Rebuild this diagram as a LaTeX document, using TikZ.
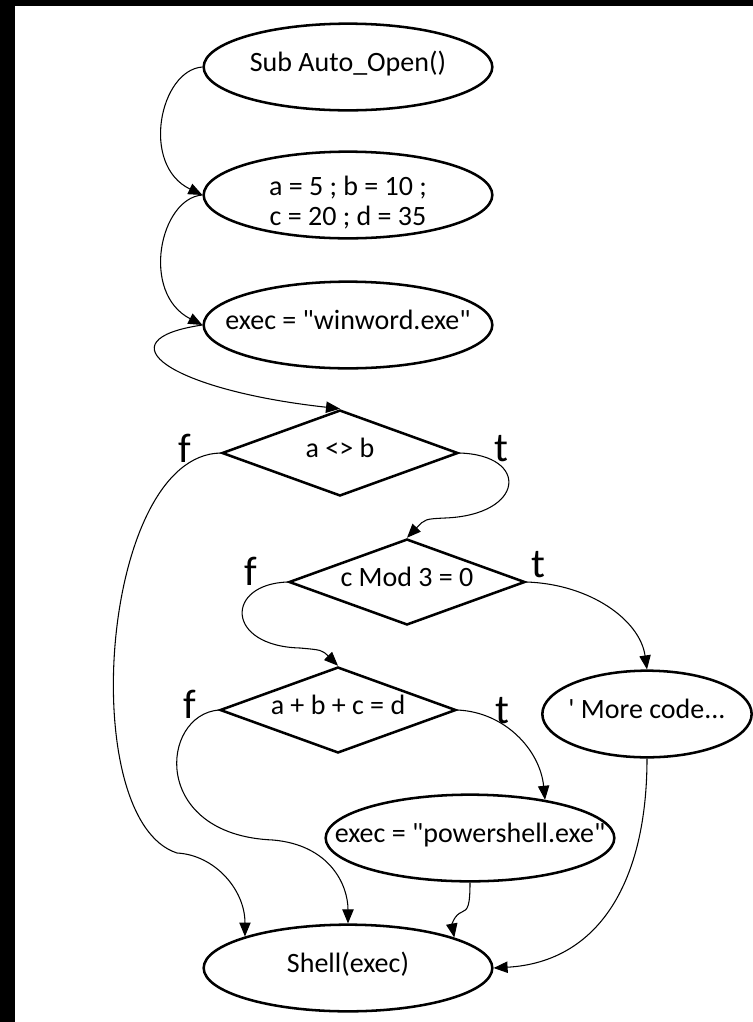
\documentclass[tikz,border=0pt]{standalone}
\usepackage{fontspec}
\setmainfont{Carlito}
\usetikzlibrary{shapes.geometric,arrows.meta}

\begin{document}
\begin{tikzpicture}[x=0.75pt,y=-0.75pt,
    zero box/.style={execute at begin node={\hbox to 0pt\bgroup\hss},
                     execute at end node={\hss\egroup}},
    stmt node/.style={ellipse,draw,line width=1.9pt,inner sep=0pt,
                      minimum width=216.5pt,minimum height=65pt,zero box,
                      font=\fontsize{21}{22.5}\selectfont,
                      text height=0.7em,text depth=0pt},
    cond node/.style={diamond,draw,line width=1.9pt,inner sep=0pt,
                      minimum width=177pt,minimum height=64.5pt,zero box,
                      font=\fontsize{21}{22.5}\selectfont,
                      text height=0.7em,text depth=0pt},
    lbl node/.style={font=\fontsize{31}{37}\selectfont,inner sep=0pt,anchor=base},
    link/.style={-{Triangle[length=10.5pt,width=8.5pt]},line width=0.8pt}]

  \useasboundingbox (0,0) rectangle (753,1022);
  \fill (0,0) rectangle (15,1022);
  \fill (0,0) rectangle (753,6);

  \node[stmt node] (sub) at (348,67) {Sub Auto\_Open()};
  \node[stmt node] (init) at (348,195)
    {\raisebox{-9pt}{\begin{tabular}{@{}c@{}}a = 5 ; b = 10 ;\\c = 20 ; d = 35\end{tabular}}};
  \node[stmt node] (exec1) at (348,325) {exec = \textquotedbl winword.exe\textquotedbl};
  \node[cond node] (c1) at (340,453) {a <> b};
  \node[cond node] (c2) at (407,582) {c Mod 3 = 0};
  \node[cond node] (c3) at (338,710) {a + b + c = d};
  \node[stmt node,minimum width=157pt] (more) at (647,714)
    {\textquotesingle{} More code.\kern0pt.\kern0pt.};
  \node[stmt node] (exec2) at (470,838) {exec = \textquotedbl powershell.exe\textquotedbl};
  \node[stmt node] (shell) at (348,968) {Shell(exec)};

  \node[lbl node] (f1) at (185,462) {f};
  \node[lbl node] (t1) at (501,461) {t};
  \node[lbl node] (f2) at (251,585) {f};
  \node[lbl node] (t2) at (538,577) {t};
  \node[lbl node] (f3) at (190,718) {f};
  \node[lbl node] (t3) at (502,723) {t};

  \draw[link] (sub.west) .. controls (160,70) and (140,165) .. (init.west);
  \draw[link] (init.west) .. controls (160,198) and (140,293) .. (exec1.west);
  \draw[link] (exec1.west) .. controls (100,340) and (170,390) .. (c1.north);
  \draw[link] (c1.west) .. controls (100,455) and (75,820) .. (177,853)
    .. controls (215,855) and (245,890) .. (shell.163);
  \draw[link] (c1.east) .. controls (530,455) and (525,515) .. (445,518)
    .. controls (425,519) .. (c2.north);
  \draw[link] (c2.east) .. controls (590,584) and (640,620) .. (more.north);
  \draw[link] (c2.west) .. controls (225,584) and (225,646) .. (300,648)
    .. controls (322,650) .. (c3.north);
  \draw[link] (c3.west) .. controls (160,715) and (150,835) .. (273,840)
    .. controls (330,845) and (348,885) .. (shell.north);
  \draw[link] (c3.east) .. controls (505,712) and (540,750) .. (exec2.27);
  \draw[link] (exec2.south) .. controls (470,905) and (468,910) .. (462,912)
    .. controls (454,915) and (452,925) .. (shell.16);
  \draw[link] (more.south) .. controls (647,880) and (600,962) .. (shell.east);
\end{tikzpicture}
\end{document}
